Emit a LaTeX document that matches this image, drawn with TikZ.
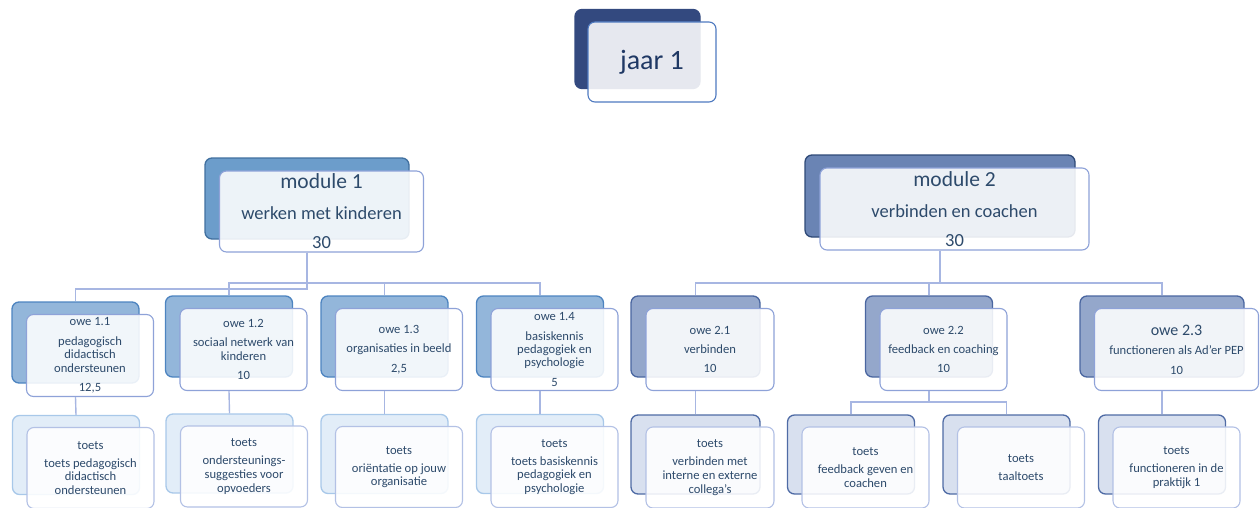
\documentclass[tikz,border=0pt]{standalone}
\usepackage{fontspec}
\setmainfont{Carlito}
\usetikzlibrary{positioning}

\definecolor{jaarfill}{HTML}{33497F}
\definecolor{jaarline}{HTML}{4F7AC0}
\definecolor{jaartext}{HTML}{1F3864}
\definecolor{mfill}{HTML}{6C9DCB}
\definecolor{mline}{HTML}{41709F}
\definecolor{nfill}{HTML}{6A84B4}
\definecolor{nline}{HTML}{2F4A78}
\definecolor{ofill}{HTML}{93B6DA}
\definecolor{oline}{HTML}{4D84C0}
\definecolor{pfill}{HTML}{94A7CB}
\definecolor{pline}{HTML}{4A66A0}
\definecolor{tfill}{HTML}{E2EDF8}
\definecolor{tline}{HTML}{A8C8E9}
\definecolor{ufill}{HTML}{D8E0EF}
\definecolor{uline}{HTML}{4F6BA5}
\definecolor{frontline}{HTML}{8EA2D8}
\definecolor{toetsline}{HTML}{B3C1E5}
\definecolor{linkcol}{HTML}{A7B6E2}
\definecolor{cardtext}{HTML}{2D4A6B}

\tikzset{
  back/.style={draw, line width=1.3pt, rounded corners=7pt, inner sep=0pt},
  front/.style={draw=#1, fill=white, fill opacity=.88, text opacity=1,
    line width=1.1pt, rounded corners=7pt, inner sep=0pt, align=center,
    text=cardtext, xshift=14.5pt, yshift=-13pt},
  front/.default=frontline,
  modback/.style={back, minimum width=204pt, minimum height=81pt},
  modfront/.style={front, minimum width=204pt, minimum height=81pt,
    font=\fontsize{18.5}{29}\selectfont},
  oweback/.style={back, minimum width=127pt, minimum height=81pt},
  owefront/.style={front, minimum width=127pt, minimum height=82pt,
    font=\fontsize{12.6}{13.4}\selectfont},
  toetsback/.style={back, minimum width=127pt, minimum height=79pt},
  toetsfront/.style={front=toetsline, minimum width=127pt, minimum height=81pt,
    font=\fontsize{12.6}{13.6}\selectfont},
  link/.style={draw=linkcol, line width=1.4pt}
}

\begin{document}
\begin{tikzpicture}[x=1pt,y=-1pt]
\clip (0,0) rectangle (1260,508);

% jaar
\node[back, fill=jaarfill, draw=jaarfill, minimum width=125pt, minimum height=79pt] (jb) at (637.5,49) {};
\node[front=jaarline, minimum width=128pt, minimum height=80pt, text=jaartext,
  font=\fontsize{28}{30}\selectfont] (j) at (jb.center) {jaar 1};

% modules
\node[modback, fill=mfill, draw=mline] (m1b) at (307,198.5) {};
\node[modfront] (m1) at (m1b.center)
  {{\fontsize{21.5}{26}\selectfont module 1}\\[2pt]werken met kinderen\\30};
\node[modback, fill=nfill, draw=nline, minimum width=270pt, minimum height=82pt] (m2b) at (940,196) {};
\node[modfront, minimum width=269pt, minimum height=82pt] (m2) at (m2b.center)
  {{\fontsize{21.5}{26}\selectfont module 2}\\[2pt]verbinden en coachen\\30};

% owe module 1
\node[oweback, fill=ofill, draw=oline] (o11b) at (75.5,342.5) {};
\node[owefront] (o11) at (o11b.center)
  {owe 1.1\\[6pt]pedagogisch\\didactisch\\ondersteunen\\[6pt]12,5};
\node[oweback, fill=ofill, draw=oline] (o12b) at (229,336.5) {};
\node[owefront] (o12) at (o12b.center)
  {owe 1.2\\[6pt]sociaal netwerk van\\kinderen\\[6pt]10};
\node[oweback, fill=ofill, draw=oline] (o13b) at (384.5,336.5) {};
\node[owefront] (o13) at (o13b.center)
  {owe 1.3\\[6pt]organisaties in beeld\\[6pt]2,5};
\node[oweback, fill=ofill, draw=oline] (o14b) at (540,336.5) {};
\node[owefront] (o14) at (o14b.center)
  {owe 1.4\\[6pt]basiskennis\\pedagogiek en\\psychologie\\[6pt]5};

% owe module 2
\node[oweback, fill=pfill, draw=pline, minimum width=129pt] (o21b) at (695.5,336.5) {};
\node[owefront, minimum width=128pt] (o21) at (o21b.center)
  {owe 2.1\\[6pt]verbinden\\[6pt]10};
\node[oweback, fill=pfill, draw=pline] (o22b) at (929,336.5) {};
\node[owefront] (o22) at (o22b.center)
  {owe 2.2\\[6pt]feedback en coaching\\[6pt]10};
\node[oweback, fill=pfill, draw=pline, minimum width=164pt] (o23b) at (1162,336.5) {};
\node[owefront, minimum width=164pt] (o23) at (o23b.center)
  {{\fontsize{16}{16}\selectfont owe 2.3}\\[6pt]functioneren als Ad'er PEP\\[6pt]10};

% toetsen
\node[toetsback, fill=tfill, draw=tline] (t11b) at (76,455) {};
\node[toetsfront] (t11) at (t11b.center)
  {toets\\[4.5pt]toets pedagogisch\\didactisch\\ondersteunen};
\node[toetsback, fill=tfill, draw=tline] (t12b) at (229.5,453.5) {};
\node[toetsfront] (t12) at (t12b.center)
  {toets\\[4.5pt]ondersteunings-\\suggesties voor\\opvoeders};
\node[toetsback, fill=tfill, draw=tline] (t13b) at (384.5,454) {};
\node[toetsfront] (t13) at (t13b.center)
  {toets\\[4.5pt]oriëntatie op jouw\\organisatie};
\node[toetsback, fill=tfill, draw=tline] (t14b) at (540,454) {};
\node[toetsfront] (t14) at (t14b.center)
  {toets\\[4.5pt]toets basiskennis\\pedagogiek en\\psychologie};
\node[toetsback, fill=ufill, draw=uline, minimum width=129pt] (t21b) at (695.5,454.5) {};
\node[toetsfront, minimum width=128pt] (t21) at (t21b.center)
  {toets\\[4.5pt]verbinden met\\interne en externe\\collega's};
\node[toetsback, fill=ufill, draw=uline] (t22ab) at (851,454.5) {};
\node[toetsfront] (t22a) at (t22ab.center)
  {toets\\[4.5pt]feedback geven en\\coachen};
\node[toetsback, fill=ufill, draw=uline] (t22bb) at (1006.5,454.5) {};
\node[toetsfront] (t22b) at (t22bb.center)
  {toets\\[4.5pt]taaltoets};
\node[toetsback, fill=ufill, draw=uline] (t23b) at (1162,454.5) {};
\node[toetsfront] (t23) at (t23b.center)
  {toets\\[4.5pt]functioneren in de\\praktijk 1};

% verbindingen
\draw[link] (m1b |- m1.south) |- ([yshift=12.5pt]o11b.north) -- (o11b.north);
\draw[link] (m1b |- m1.south) |- ([yshift=12.5pt]o12b.north) -- (o12b.north);
\draw[link] (m1b |- m1.south) |- ([yshift=12.5pt]o13b.north) -- (o13b.north);
\draw[link] (m1b |- m1.south) |- ([yshift=12.5pt]o14b.north) -- (o14b.north);
\draw[link] (m2b |- m2.south) |- ([yshift=12.5pt]o21b.north) -- (o21b.north);
\draw[link] (m2b |- m2.south) |- ([yshift=12.5pt]o22b.north) -- (o22b.north);
\draw[link] (m2b |- m2.south) |- ([yshift=12.5pt]o23b.north) -- (o23b.north);

\draw[link] (o11b |- o11.south) -- (t11b.north);
\draw[link] (o12b |- o12.south) -- (t12b.north);
\draw[link] (o13b |- o13.south) -- (t13b.north);
\draw[link] (o14b |- o14.south) -- (t14b.north);
\draw[link] (o21b |- o21.south) -- (t21b.north);
\draw[link] (o22b |- o22.south) |- ([yshift=12.5pt]t22ab.north) -- (t22ab.north);
\draw[link] (o22b |- o22.south) |- ([yshift=12.5pt]t22bb.north) -- (t22bb.north);
\draw[link] (o23b |- o23.south) -- (t23b.north);
\end{tikzpicture}
\end{document}
